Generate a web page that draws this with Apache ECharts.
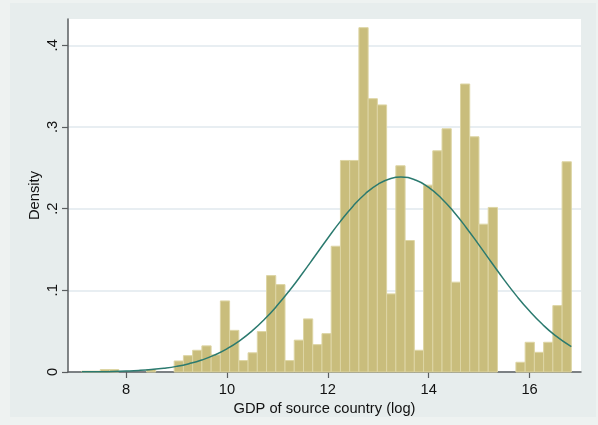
<!DOCTYPE html>
<html>
<head>
<meta charset="utf-8">
<script src="https://cdn.jsdelivr.net/npm/echarts@6/dist/echarts.min.js"></script>
<style>
  html, body { margin: 0; padding: 0; background: #eef2f1; }
  #chart { width: 598px; height: 425px; }
</style>
</head>
<body>
<div id="chart"></div>
<script>
// Histogram bins of log GDP of source country (density scale)
const binStart = 7.124;
const binWidth = 0.1831;
const density = [
  0.001, 0.001, 0.003, 0.003, 0, 0, 0, 0.003, 0, 0,
  0.0135, 0.020, 0.0266, 0.032, 0.021, 0.087, 0.051, 0.014, 0.0235, 0.0495,
  0.118, 0.107, 0.014, 0.039, 0.065, 0.0335, 0.047, 0.154, 0.259, 0.259,
  0.4216, 0.3346, 0.327, 0.0956, 0.2525, 0.161, 0.0266, 0.2288, 0.2708, 0.2978,
  0.110, 0.3526, 0.288, 0.181, 0.2015, 0, 0, 0.0119, 0.0364, 0.0241,
  0.0364, 0.0813, 0.2574
];

// Overlaid normal density curve
const curveX = [7.124, 7.5, 7.75, 8, 8.25, 8.5, 8.75, 9, 9.25, 9.5,
  9.75, 10, 10.25, 10.5, 10.75, 11, 11.25, 11.5, 11.75, 12,
  12.25, 12.5, 12.75, 13, 13.25, 13.45, 13.75, 14, 14.25, 14.5,
  14.75, 15, 15.25, 15.5, 15.75, 16, 16.25, 16.5, 16.828];
const curveY = [0.0002, 0.0004, 0.0007, 0.0012, 0.0019, 0.0030, 0.0046, 0.0069, 0.0102, 0.0146,
  0.0206, 0.0284, 0.0382, 0.0503, 0.0648, 0.0816, 0.1004, 0.1209, 0.1423, 0.1638,
  0.1844, 0.2030, 0.2186, 0.2301, 0.2369, 0.2386, 0.2348, 0.2260, 0.2128, 0.1959,
  0.1764, 0.1553, 0.1337, 0.1125, 0.0926, 0.0746, 0.0587, 0.0452, 0.0310];

// Axis ticks
const xTicks = [8, 10, 12, 14, 16];
const yTicks = [0, 0.1, 0.2, 0.3, 0.4];

const histData = density.map((h, i) => [binStart + i * binWidth, binStart + (i + 1) * binWidth, h]);
const curveData = curveX.map((x, i) => [x, curveY[i]]);

const font = "'Liberation Sans', Arial, Helvetica, sans-serif";
const axisColor = '#5a5e60';

const chart = echarts.init(document.getElementById('chart'), null, { renderer: 'canvas' });
chart.setOption({
  animation: false,
  backgroundColor: '#eef2f1',
  textStyle: { fontFamily: font },
  graphic: [{
    type: 'rect', z: -10, silent: true,
    shape: { x: 10, y: 3, width: 586, height: 414 },
    style: { fill: '#e7eded' }
  }],
  grid: {
    left: 68, top: 19, width: 513, height: 353,
    show: true, backgroundColor: '#ffffff', borderWidth: 0
  },
  xAxis: {
    type: 'value', min: 6.85, max: 17.02,
    name: 'GDP of source country (log)',
    nameLocation: 'middle', nameGap: 26,
    nameTextStyle: { fontSize: 14.7, color: '#111', fontFamily: font },
    axisLine: { show: true, lineStyle: { color: axisColor, width: 1.5 } },
    axisTick: { show: true, length: 6, customValues: xTicks, lineStyle: { color: axisColor, width: 1.2 } },
    axisLabel: { customValues: xTicks, fontSize: 14.7, color: '#111', margin: 10, fontFamily: font },
    splitLine: { show: false }
  },
  yAxis: {
    type: 'value', min: 0, max: 0.4322,
    name: 'Density',
    nameLocation: 'middle', nameGap: 26, nameMoveOverlap: false,
    nameTextStyle: { fontSize: 14.7, color: '#111', fontFamily: font },
    axisLine: { show: true, lineStyle: { color: axisColor, width: 1.5 } },
    axisTick: { show: true, length: 6, customValues: yTicks, lineStyle: { color: axisColor, width: 1.2 } },
    axisLabel: {
      customValues: yTicks, rotate: 90, fontSize: 14.7, color: '#111', margin: 8, fontFamily: font,
      formatter: v => (v === 0 ? '0' : String(v).replace(/^0/, ''))
    },
    splitLine: { show: true, lineStyle: { color: '#e1e9ee', width: 1.5 } }
  },
  series: [
    {
      type: 'custom',
      data: histData,
      encode: { x: [0, 1], y: 2 },
      renderItem: function (params, api) {
        const h = api.value(2);
        if (!(h > 0)) return null;
        const p0 = api.coord([api.value(0), 0]);
        const p1 = api.coord([api.value(1), h]);
        return {
          type: 'rect',
          shape: { x: p0[0], y: p1[1], width: p1[0] - p0[0], height: p0[1] - p1[1] },
          style: { fill: '#c9bd7c', stroke: '#ddd5a4', lineWidth: 1 }
        };
      },
      z: 2
    },
    {
      type: 'line',
      data: curveData,
      smooth: true,
      showSymbol: false,
      lineStyle: { color: '#2b7a6f', width: 1.5 },
      z: 3
    }
  ]
});
</script>
</body>
</html>
